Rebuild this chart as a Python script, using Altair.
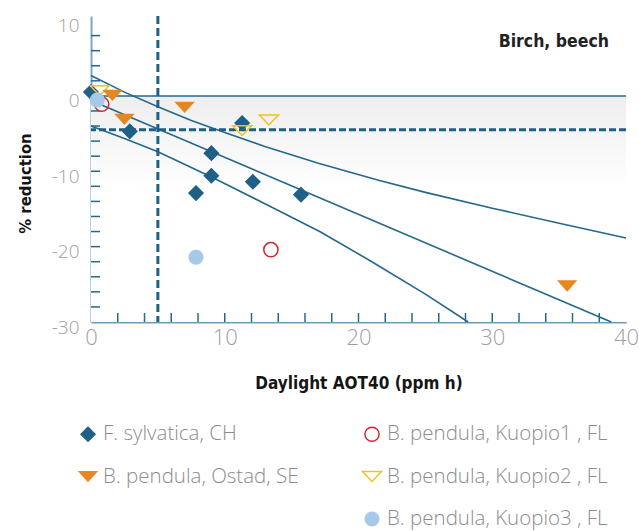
import altair as alt
import pandas as pd

# ---- observed growth reductions (x: daylight AOT40 in ppm h, y: % reduction) ----
fs_x = [0.0, 2.9, 11.3, 9.0, 9.0, 7.85, 12.1, 15.7]          # F. sylvatica, CH
fs_y = [0.5, -4.7, -3.6, -7.6, -10.6, -12.9, -11.4, -13.1]
k2_x = [0.65, 11.3, 13.3]                                     # B. pendula, Kuopio2
k2_y = [0.7, -4.6, -3.2]
k1_x = [0.8, 13.45]                                           # B. pendula, Kuopio1
k1_y = [-1.1, -20.4]
os_x = [1.6, 2.5, 7.0, 35.6]                                  # B. pendula, Ostad
os_y = [0.1, -3.1, -1.5, -25.2]
k3_x = [0.47, 7.85]                                           # B. pendula, Kuopio3
k3_y = [-0.55, -21.4]

# ---- regression line with its confidence band ----
fit_x = [0.0, 38.9]
fit_y = [-0.6, -30.0]
upper_x = [0, 2.5, 5, 7.5, 10, 13, 17, 21.5, 25, 30, 35, 40]
upper_y = [2.7, 0.5, -1.45, -3.25, -4.85, -6.7, -8.95, -11.2, -12.8, -14.9, -16.9, -18.85]
lower_x = [0, 2.5, 5, 7.5, 9.5, 13, 17.1, 21, 25, 28.2]
lower_y = [-4.0, -5.65, -7.4, -9.5, -11.2, -14.3, -18.0, -22.0, -26.3, -30.0]

# critical level (AOT40) and the matching reduction
critical_aot40 = [5]
critical_reduction = [-4.5]

# axis ticks
x_labels = [0, 10, 20, 30, 40]
y_labels = [-30, -20, -10, 0, 10]
x_minor = [2, 4, 6, 8, 10, 12, 14, 16, 18, 20, 22, 24, 26, 28, 30, 32, 34, 36, 38]
y_minor = [-28, -26, -24, -22, -20, -18, -16, -14, -12, -10, -8, -6, -4, -2, 2, 4, 6, 8]

# legend entries, filled column by column (an empty slot ends the left column)
names = ["F. sylvatica, CH", "B. pendula, Ostad, SE", "",
         "B. pendula, Kuopio1 , FL", "B. pendula, Kuopio2 , FL", "B. pendula, Kuopio3 , FL"]

DIAMOND = "M-0.7,0L0,-0.7L0.7,0L0,0.7Z"
TRI = "M-0.85,-0.47L0.85,-0.47L0,0.47Z"
TRI_OPEN = "M-0.95,-0.49L0.95,-0.49L0,0.49Z"
RING = "M-0.71,0A0.71,0.71,0,1,0,0.71,0A0.71,0.71,0,1,0,-0.71,0Z"
DOT = "M-0.68,0A0.68,0.68,0,1,0,0.68,0A0.68,0.68,0,1,0,-0.68,0Z"
shapes = [DIAMOND, TRI, "M-0.5,0L0,-0.5L0.5,0L0,0.5Z", RING, TRI_OPEN, DOT]
fills = ["#1f6087", "#e8861f", "transparent", "transparent", "transparent", "#a6c9ea"]
strokes = ["#1f6087", "#e8861f", "transparent", "#d0262e", "#f2c21b", "#a6c9ea"]

BLUE = "#24688c"
LABEL_FONT = "Open Sans"
TITLE_FONT = "DejaVu Sans Condensed, Liberation Sans, sans-serif"

# ---- tables ----
frames = []
for nm, xs, ys in [(names[0], fs_x, fs_y), (names[4], k2_x, k2_y), (names[3], k1_x, k1_y),
                   (names[1], os_x, os_y), (names[5], k3_x, k3_y)]:
    frames.append(pd.DataFrame({"x": xs, "y": ys, "series": nm}))
points = pd.concat(frames, ignore_index=True)
points["order"] = range(len(points))

lines = pd.concat([
    pd.DataFrame({"x": fit_x, "y": fit_y, "band": "fit"}),
    pd.DataFrame({"x": upper_x, "y": upper_y, "band": "upper"}),
    pd.DataFrame({"x": lower_x, "y": lower_y, "band": "lower"}),
], ignore_index=True)

x_scale = alt.Scale(domain=[0, 40], nice=False, zero=False)
y_scale = alt.Scale(domain=[-30, 10.6], nice=False, zero=False)

x_axis = alt.Axis(values=x_labels, ticks=False, grid=False, domainColor="#6c9cbc", domainWidth=2,
                  labelFont=LABEL_FONT, labelFontWeight=300, labelFontSize=22, labelColor="#a0a0a0",
                  labelPadding=5, labelFlush=False, labelOverlap=False,
                  labelExpr="'' + datum.value",
                  title="Daylight AOT40 (ppm h)", titleFont=TITLE_FONT, titleFontSize=17,
                  titleFontWeight="bold", titleColor="#151515", titleY=66, titleBaseline="alphabetic")
y_axis = alt.Axis(values=y_labels, ticks=False, grid=False, domainColor="#7ea7c3", domainWidth=2,
                  labelFont=LABEL_FONT, labelFontWeight=300, labelFontSize=19, labelColor="#a0a0a0",
                  labelPadding=12, labelOffset=5, labelFlush=False, labelOverlap=False,
                  labelExpr="'' + datum.value",
                  title="% reduction", titleFont=TITLE_FONT, titleFontSize=16.5,
                  titleFontWeight="bold", titleColor="#151515", titleX=-61, titleY=167,
                  titleBaseline="alphabetic")


def X(field):
    return alt.X(field, type="quantitative", scale=x_scale, axis=x_axis)


def Y(field):
    return alt.Y(field, type="quantitative", scale=y_scale, axis=y_axis)


# shaded zone below zero
shade = alt.Chart(pd.DataFrame({"x": [0], "x2": [40], "y": [0], "y2": [-30]})).mark_rect(
    fill={"gradient": "linear", "x1": 0, "y1": 0, "x2": 0, "y2": 1,
          "stops": [{"offset": 0, "color": "#eeeeee"}, {"offset": 0.42, "color": "#ffffff"}]}
).encode(x=X("x"), x2="x2", y=Y("y"), y2="y2")

zero_line = alt.Chart(pd.DataFrame({"y": [0]})).mark_rule(color=BLUE, strokeWidth=1.5).encode(y=Y("y"))

h_dash = alt.Chart(pd.DataFrame({"y": critical_reduction})).mark_rule(
    color="#1f6087", strokeWidth=3, strokeDash=[7, 3]).encode(y=Y("y"))
v_dash = alt.Chart(pd.DataFrame({"x": critical_aot40})).mark_rule(
    color="#1f6087", strokeWidth=3, strokeDash=[8, 4]).encode(x=X("x"))

reg = alt.Chart(lines).mark_line(color=BLUE, strokeWidth=1.6).encode(
    x=X("x"), y=Y("y"), detail="band:N")

x_ticks = alt.Chart(pd.DataFrame({"t": x_minor})).mark_rule(color=BLUE, strokeWidth=1.5).encode(
    x=X("t"), y=alt.value(306), y2=alt.value(297))
y_ticks = alt.Chart(pd.DataFrame({"t": y_minor})).mark_rule(color=BLUE, strokeWidth=1.5).encode(
    y=Y("t"), x=alt.value(0), x2=alt.value(9))

legend = alt.Legend(title=None, orient="none", legendX=-14, legendY=407, columns=2,
                    columnPadding=60, rowPadding=20.5, padding=0, offset=0,
                    labelFont=LABEL_FONT, labelFontWeight=300, labelFontSize=20.5,
                    labelColor="#8c8c8c", labelOffset=4, labelLimit=400,
                    symbolSize=400, symbolStrokeWidth=1.5, symbolOpacity=1)

marks = alt.Chart(points).mark_point(size=400, opacity=1, strokeWidth=1.5).encode(
    x=X("x"), y=Y("y"),
    shape=alt.Shape("series:N", scale=alt.Scale(domain=names, range=shapes), legend=legend),
    fill=alt.Fill("series:N", scale=alt.Scale(domain=names, range=fills), legend=legend),
    stroke=alt.Stroke("series:N", scale=alt.Scale(domain=names, range=strokes), legend=legend),
    order="order:Q",
)

label = alt.Chart(pd.DataFrame({"x": [40], "y": [10.6], "t": ["Birch, beech"]})).mark_text(
    align="right", baseline="top", dx=-17, dy=17, font=TITLE_FONT, fontSize=17.5,
    fontWeight="bold", color="#222222").encode(x=X("x"), y=Y("y"), text="t:N")

chart = alt.layer(shade, zero_line, reg, h_dash, v_dash, x_ticks, y_ticks, marks, label).properties(
    width=535, height=306,
    padding={"left": 91, "top": 16, "right": 13, "bottom": 209},
    autosize=alt.AutoSizeParams(type="none"),
).configure_view(stroke=None)

chart.save("out.html", embed_options={"renderer": "svg", "actions": False})
